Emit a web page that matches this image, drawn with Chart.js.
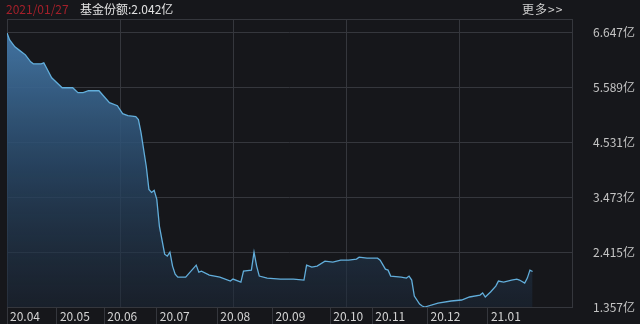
<!DOCTYPE html>
<html>
<head>
<meta charset="utf-8">
<script src="https://cdn.jsdelivr.net/npm/chart.js@4.4.0/dist/chart.umd.min.js"></script>
<style>
body { margin: 0; background: #16171b; }
#wrap { position: relative; width: 640px; height: 324px; }
#grafico { display: block; }
.hd { position: absolute; top: 1px; font: 12px "Noto Sans CJK SC", sans-serif; line-height: 16px; white-space: nowrap; }
</style>
</head>
<body>
<div id="wrap">
    <canvas id="grafico" width="640" height="324"></canvas>
    <span class="hd" style="left:6px;color:#a3202a">2021/01/27</span>
    <span class="hd" style="left:80px;color:#e2e2e2">基金份额:2.042亿</span>
    <span class="hd" style="left:522px;color:#cfcfcf;letter-spacing:1px">更多&gt;&gt;</span>
</div>
<script>
// dia de cotizacion (desde el inicio de la serie) y participaciones en 亿
var dias = [0, 1, 3, 5, 7, 9, 10, 13, 14, 15, 17, 19, 21, 25, 27, 29, 31, 35, 37, 39,
    42, 44, 46, 49, 50, 51, 53, 54, 55, 56, 57, 58, 60, 61, 62, 63, 64, 65, 68, 69,
    72, 73, 74, 77, 81, 85, 86, 89, 90, 93, 94, 95, 96, 99, 104, 109, 113, 114, 116, 118,
    121, 124, 127, 130, 133, 134, 137, 141, 142, 144, 145, 146, 150, 152, 153, 154, 155, 157, 158, 159,
    164, 169, 173, 176, 180, 181, 182, 184, 186, 187, 189, 192, 194, 195, 197, 198, 199, 200];

var participaciones = [6.647, 6.512, 6.378, 6.301, 6.224, 6.089, 6.051, 6.051, 6.070, 5.974,
    5.781, 5.685, 5.589, 5.589, 5.493, 5.493, 5.531, 5.531, 5.416, 5.300,
    5.243, 5.089, 5.050, 5.031, 4.973, 4.723, 4.069, 3.627, 3.569, 3.608,
    3.435, 2.915, 2.377, 2.338, 2.415, 2.146, 1.992, 1.934, 1.934, 1.992,
    2.165, 2.030, 2.050, 1.973, 1.934, 1.857, 1.896, 1.838, 2.050, 2.069,
    2.415, 2.146, 1.954, 1.915, 1.896, 1.896, 1.877, 2.165, 2.127, 2.146,
    2.242, 2.223, 2.261, 2.261, 2.281, 2.319, 2.300, 2.300, 2.261, 2.088,
    2.069, 1.954, 1.934, 1.915, 1.954, 1.877, 1.569, 1.415, 1.376, 1.357,
    1.434, 1.473, 1.492, 1.550, 1.588, 1.627, 1.550, 1.646, 1.761, 1.857,
    1.838, 1.877, 1.896, 1.877, 1.819, 1.915, 2.069, 2.042];

var meses = ['20.04', '20.05', '20.06', '20.07', '20.08', '20.09', '20.10', '20.11', '20.12', '21.01'];
var inicioMes = [0, 19, 37, 57, 80, 101, 123, 139, 160, 183];

var ticksY = [1.357, 2.415, 3.473, 4.531, 5.589, 6.647];

var colorRejilla = '#35373d';

var puntos = dias.map(function (d, i) {
    return { x: d, y: participaciones[i] };
});

var ctx = document.getElementById('grafico').getContext('2d');
var myChart = new Chart(ctx, {
    type: 'line',
    data: {
        datasets: [{
            data: puntos,
            borderColor: '#62aedb',
            borderWidth: 1.3,
            pointRadius: 0,
            tension: 0,
            fill: 'start',
            backgroundColor: function (context) {
                var area = context.chart.chartArea;
                if (!area) {
                    return 'rgba(60,105,150,0.6)';
                }
                var g = context.chart.ctx.createLinearGradient(0, area.top, 0, area.bottom);
                g.addColorStop(0, 'rgba(70,122,170,1)');
                g.addColorStop(0.5, 'rgba(42,74,106,0.85)');
                g.addColorStop(1, 'rgba(28,40,56,0.55)');
                return g;
            }
        }]
    },
    options: {
        responsive: false,
        animation: false,
        devicePixelRatio: 1,
        layout: { padding: { top: 19, left: 7, right: 0, bottom: 0 } },
        plugins: {
            legend: { display: false },
            tooltip: { enabled: false }
        },
        scales: {
            x: {
                type: 'linear',
                position: 'bottom',
                min: 0,
                max: 215,
                afterBuildTicks: function (scale) {
                    scale.ticks = inicioMes.map(function (v) { return { value: v }; });
                },
                afterFit: function (scale) { scale.height = 17; },
                grid: {
                    drawOnChartArea: false,
                    drawTicks: true,
                    tickLength: 17,
                    color: colorRejilla
                },
                border: { display: true, color: colorRejilla },
                ticks: {
                    autoSkip: false,
                    maxRotation: 0,
                    align: 'start',
                    labelOffset: 3,
                    padding: -15,
                    color: '#d4d4d4',
                    font: { family: '"Noto Sans CJK SC", sans-serif', size: 12 },
                    callback: function (value) {
                        var i = inicioMes.indexOf(value);
                        return i >= 0 ? meses[i] : '';
                    }
                }
            },
            rejilla: {
                type: 'linear',
                position: 'top',
                min: 0,
                max: 5,
                afterFit: function (scale) { scale.height = 0; },
                grid: { drawTicks: false, color: colorRejilla },
                border: { display: true, color: colorRejilla },
                ticks: { display: false, stepSize: 1 }
            },
            y: {
                position: 'right',
                min: 1.357,
                max: 6.916,
                afterBuildTicks: function (scale) {
                    scale.ticks = ticksY.map(function (v) { return { value: v }; });
                },
                afterFit: function (scale) { scale.width = 68; },
                grid: {
                    drawTicks: true,
                    tickLength: 21,
                    tickColor: 'rgba(0,0,0,0)',
                    color: colorRejilla
                },
                border: { display: true, color: colorRejilla },
                ticks: {
                    padding: 0,
                    color: '#c4c4c4',
                    font: { family: '"Noto Sans CJK SC", sans-serif', size: 12 },
                    callback: function (value) {
                        return value.toFixed(3) + '亿';
                    }
                }
            }
        }
    }
});
</script>
</body>
</html>
